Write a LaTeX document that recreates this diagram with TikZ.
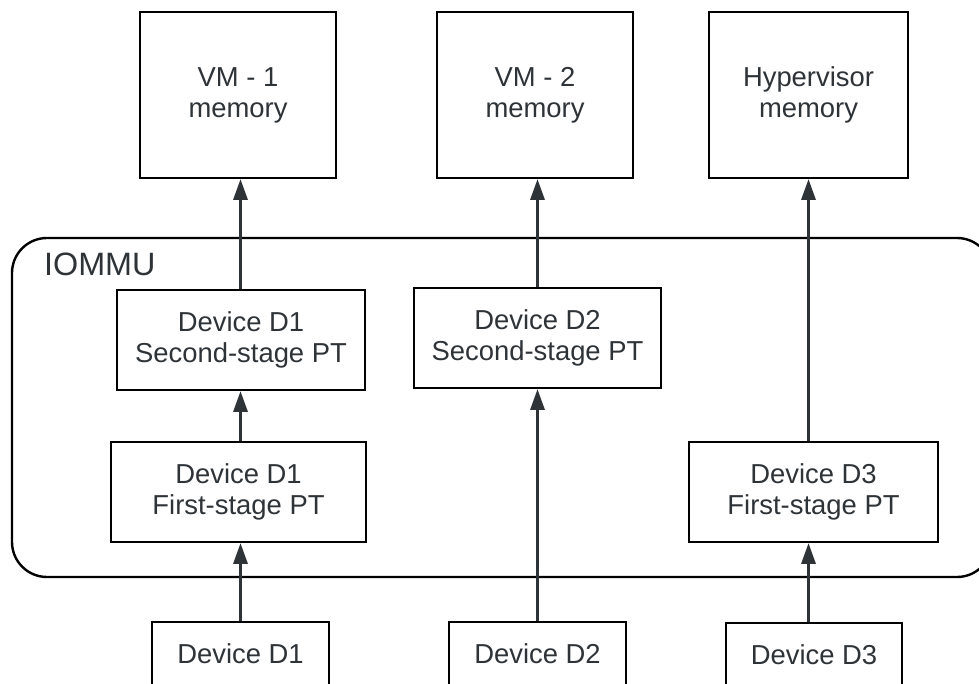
\documentclass[tikz,border=0pt]{standalone}
\usepackage{fontspec}
\setmainfont{Liberation Sans}
\usetikzlibrary{arrows.meta}

\definecolor{inkgray}{HTML}{2E3338}

\tikzset{
    membox/.style={draw, line width=1.7pt, align=center, text=inkgray,
        font=\fontsize{19.5}{22}\selectfont, inner sep=0pt},
    uparrow/.style={line width=1.5pt, draw=inkgray,
        -{Triangle[width=0.36cm, length=0.52cm]}}
}

\begin{document}
\begin{tikzpicture}
        \clip (0,0) rectangle (24.475,-17.1);

        % iommu block
        \draw[line width=1.7pt, rounded corners=0.875cm] (0.3,-5.95) rectangle (24.8,-14.425);
        \node[anchor=west, text=inkgray, font=\fontsize{23}{26}\selectfont] (iommu) at (0.98,-6.6) {IOMMU};

        % memory
        \node[membox, minimum width=4.9cm, minimum height=4.15cm] (vm1) at (5.95,-2.375) {VM - 1\\memory};
        \node[membox, minimum width=4.9cm, minimum height=4.15cm] (vm2) at (13.375,-2.375) {VM - 2\\memory};
        \node[membox, minimum width=4.975cm, minimum height=4.15cm] (hyp) at (20.2125,-2.375) {Hypervisor\\memory};

        % second stage
        \node[membox, minimum width=6.2cm, minimum height=2.5cm] (d1second) at (6.025,-8.5) {Device D1\\Second-stage PT};
        \node[membox, minimum width=6.175cm, minimum height=2.5cm] (d2second) at (13.4375,-8.45) {Device D2\\Second-stage PT};

        % first stage
        \node[membox, minimum width=6.375cm, minimum height=2.5cm] (d1first) at (5.9625,-12.3) {Device D1\\First-stage PT};
        \node[membox, minimum width=6.225cm, minimum height=2.5cm] (d3first) at (20.3375,-12.3) {Device D3\\First-stage PT};

        % devices
        \node[membox, minimum width=4.425cm, minimum height=1.6cm] (dev1) at (6.0125,-16.35) {Device D1};
        \node[membox, minimum width=4.425cm, minimum height=1.6cm] (dev2) at (13.4375,-16.35) {Device D2};
        \node[membox, minimum width=4.4cm, minimum height=1.6cm] (dev3) at (20.35,-16.375) {Device D3};

        % D1 path
        \draw[uparrow] (dev1.north) -- (dev1.north |- d1first.south);
        \draw[uparrow] (d1first.north -| dev1.north) -- (d1second.south -| dev1.north);
        \draw[uparrow] (d1second.north -| dev1.north) -- (vm1.south -| dev1.north);

        % D2 path
        \draw[uparrow] (dev2.north) -- (d2second.south);
        \draw[uparrow] (d2second.north) -- (vm2.south -| d2second.north);

        % D3 path
        \draw[uparrow] (dev3.north -| hyp.south) -- (d3first.south -| hyp.south);
        \draw[uparrow] (d3first.north -| hyp.south) -- (hyp.south);
\end{tikzpicture}
\end{document}
